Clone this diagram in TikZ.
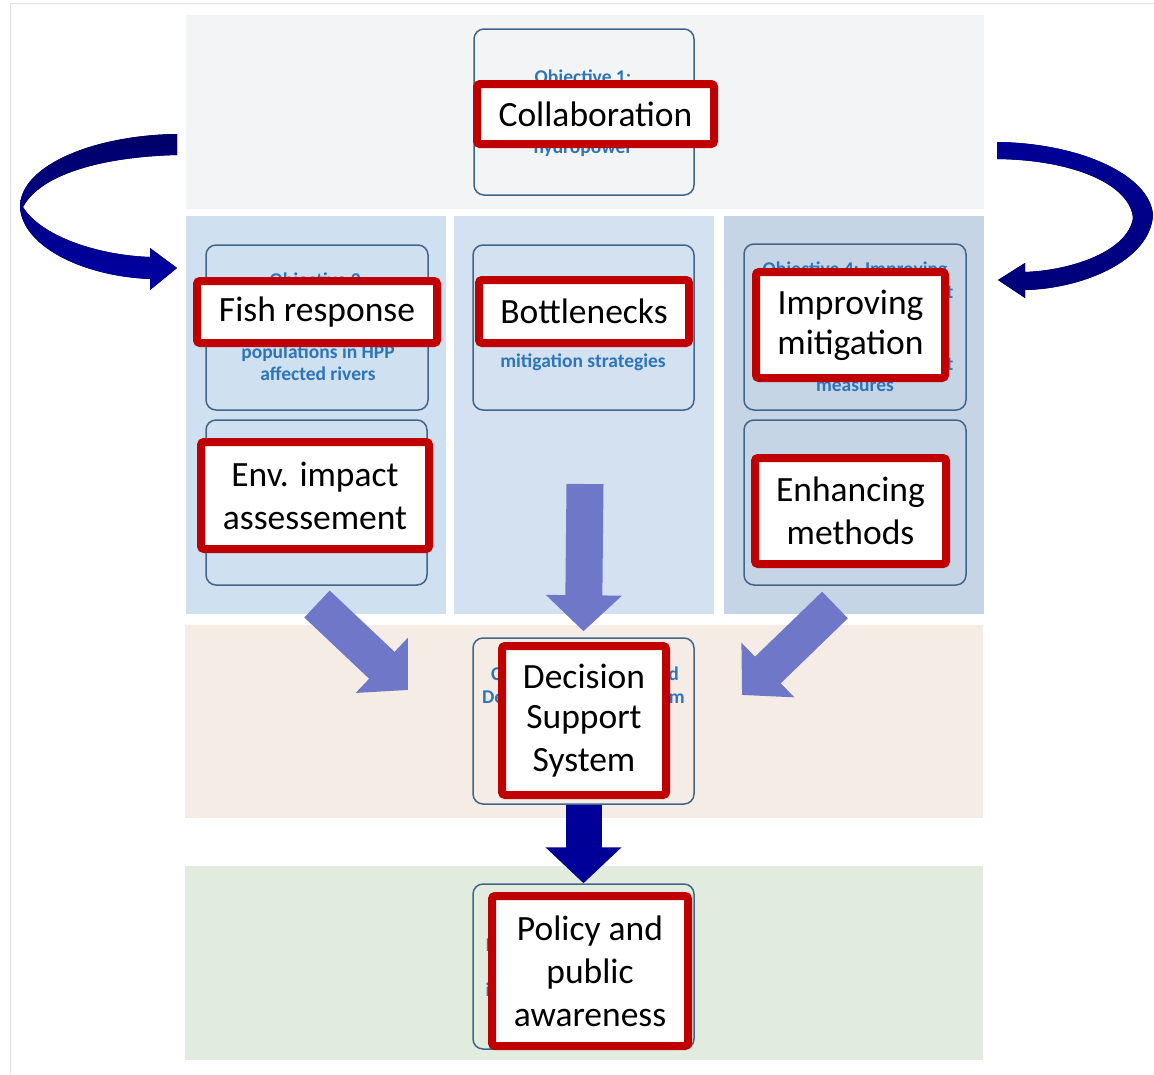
\documentclass[tikz,border=0pt]{standalone}
\usepackage{fontspec}
\setmainfont{Carlito}
\usetikzlibrary{arrows.meta}

\definecolor{redc}{RGB}{192,0,0}
\definecolor{bordc}{RGB}{65,101,138}
\definecolor{bluec}{RGB}{46,117,182}
\definecolor{topc}{RGB}{242,244,246}
\definecolor{leftc}{RGB}{207,224,241}
\definecolor{midc}{RGB}{212,225,240}
\definecolor{rightc}{RGB}{197,213,229}
\definecolor{pinkc}{RGB}{246,236,230}
\definecolor{greenc}{RGB}{225,236,222}
\definecolor{purpc}{RGB}{111,120,200}
\definecolor{navyc}{RGB}{0,0,153}

\begin{document}
\begin{tikzpicture}[x=1pt, y=-1pt, >={Triangle[length=36pt,width=74pt]}]
\tikzstyle{objbox}=[draw=bordc, line width=1.5pt, rounded corners=10pt, inner sep=0pt]
\tikzstyle{objtext}=[text=bluec, font=\bfseries\fontsize{19.5}{23}\selectfont, inner sep=0pt, anchor=base]
\tikzstyle{redbox}=[draw=redc, line width=8pt, fill=white, rounded corners=3pt, align=center, inner sep=0pt, font=\fontsize{35.5}{43}\selectfont]
\tikzstyle{fat}=[->, draw=purpc, line width=37pt]
\tikzstyle{darkfat}=[->, draw=navyc, line width=36pt]
\useasboundingbox (0,0) rectangle (1154,1074);
\fill[white] (0,0) rectangle (1154,1074);
\draw[black!12, line width=1pt] (10,1074) -- (10,3) -- (1154,3);

% bands
\fill[topc] (186,15) rectangle (984,209);
\fill[leftc] (186,216) rectangle (446,614);
\fill[midc] (454,216) rectangle (714,614);
\fill[rightc] (724,216) rectangle (984,614);
\fill[pinkc] (185,625) rectangle (983,818);
\fill[greenc] (185,866) rectangle (983,1060);

% objective boxes
\node[objbox, minimum width=220pt, minimum height=166pt] (O1) at (584,112) {};
\node[objbox, minimum width=222pt, minimum height=165pt] (O2) at (317,327.5) {};
\node[objbox, minimum width=221pt, minimum height=165pt] (O3) at (583.5,327.5) {};
\node[objbox, minimum width=222pt, minimum height=166pt] (O4) at (855,327) {};
\node[objbox, minimum width=221pt, minimum height=165pt] (E) at (316.5,502.5) {};
\node[objbox, minimum width=222pt, minimum height=165pt] (M) at (855,502.5) {};
\node[objbox, minimum width=221pt, minimum height=166pt] (D) at (583.5,721) {};
\node[objbox, minimum width=221pt, minimum height=165pt] (P) at (583.5,966.5) {};

% text under the labels
\node[objtext] (t1a) at (583,83) {Objective 1:};
\node[objtext] (t1b) at (583,153) {hydropower};
\node[objtext] (t2a) at (318,286) {Objective 2:};
\node[objtext] (t2b) at (318,358) {populations in HPP};
\node[objtext] (t2c) at (318,380) {affected rivers};
\node[objtext] (t3a) at (583,367) {mitigation strategies};
\node[objtext] (t4a) at (855,275) {Objective 4: Improving};
\node[objtext, anchor=base east] (t4b) at (953.5,298) {t};
\node[objtext, anchor=base east] (t4c) at (953.5,370) {t};
\node[objtext] (t4d) at (855,391) {measures};
\node[objtext, anchor=base west] (t5a) at (491,680) {C};
\node[objtext, anchor=base east] (t5b) at (679,680) {d};
\node[objtext, anchor=base west] (t5c) at (482,703) {De};
\node[objtext, anchor=base east] (t5d) at (685,703) {m};
\node[objtext, anchor=base west] (t6a) at (485.5,951) {I};
\node[objtext, anchor=base west] (t6b) at (485.5,996) {i};

% block arrows
\coordinate (M1) at (585,484);
\coordinate (L1) at (317,604);
\coordinate (L2) at (408,690);
\coordinate (K1) at (835,605);
\coordinate (K2) at (742,695);
\draw[fat] (M1) -- ([yshift=6pt]D.north);
\draw[fat] (L1) -- (L2);
\draw[fat] (K1) -- (K2);
\draw[darkfat] (D.south) -- (P.north);

% curved arrows
\fill[top color={rgb,255:red,0;green,0;blue,105}, bottom color={rgb,255:red,0;green,0;blue,165}]
  (177,134) .. controls (95,135) and (20,165) .. (20,207)
  .. controls (22,245) and (80,276) .. (150,279)
  -- (150,290) -- (177,268) -- (150,248) -- (150,257)
  .. controls (95,255) and (40,235) .. (23,207)
  .. controls (40,175) and (100,157) .. (177,155) -- cycle;
\fill[top color={rgb,255:red,0;green,0;blue,150}, bottom color={rgb,255:red,0;green,0;blue,120}]
  (997,142) .. controls (1080,143) and (1150,175) .. (1153,215)
  .. controls (1150,262) and (1080,289) .. (1025,290)
  -- (1025,298) -- (998,280) -- (1025,263) -- (1025,272)
  .. controls (1075,270) and (1128,250) .. (1133,218)
  .. controls (1130,185) and (1075,160) .. (997,159) -- cycle;

% labels
\node[redbox, minimum width=237pt, minimum height=60pt] (R1) at (595.5,114) {Collaboration};
\node[redbox, minimum width=240pt, minimum height=62pt] (R2) at (317,312) {Fish response};
\node[redbox, minimum width=210pt, minimum height=63pt] (R3) at (584,311.5) {Bottlenecks};
\node[redbox, minimum width=189pt, minimum height=106pt] (R4) at (850.5,325) {\raisebox{-3pt}{Improving}\\mitigation};
\node[redbox, minimum width=228pt, minimum height=107pt] (R5) at (315,495.5) {Env. impact\\assessement};
\node[redbox, minimum width=191pt, minimum height=106pt] (R6) at (850.5,511) {Enhancing\\methods};
\node[redbox, minimum width=164pt, minimum height=149pt] (R7) at (584,720.5) {\raisebox{-3pt}{Decision}\\Support\\System};
\node[redbox, minimum width=196pt, minimum height=150pt] (R8) at (590,971) {Policy and\\public\\awareness};
\end{tikzpicture}
\end{document}
